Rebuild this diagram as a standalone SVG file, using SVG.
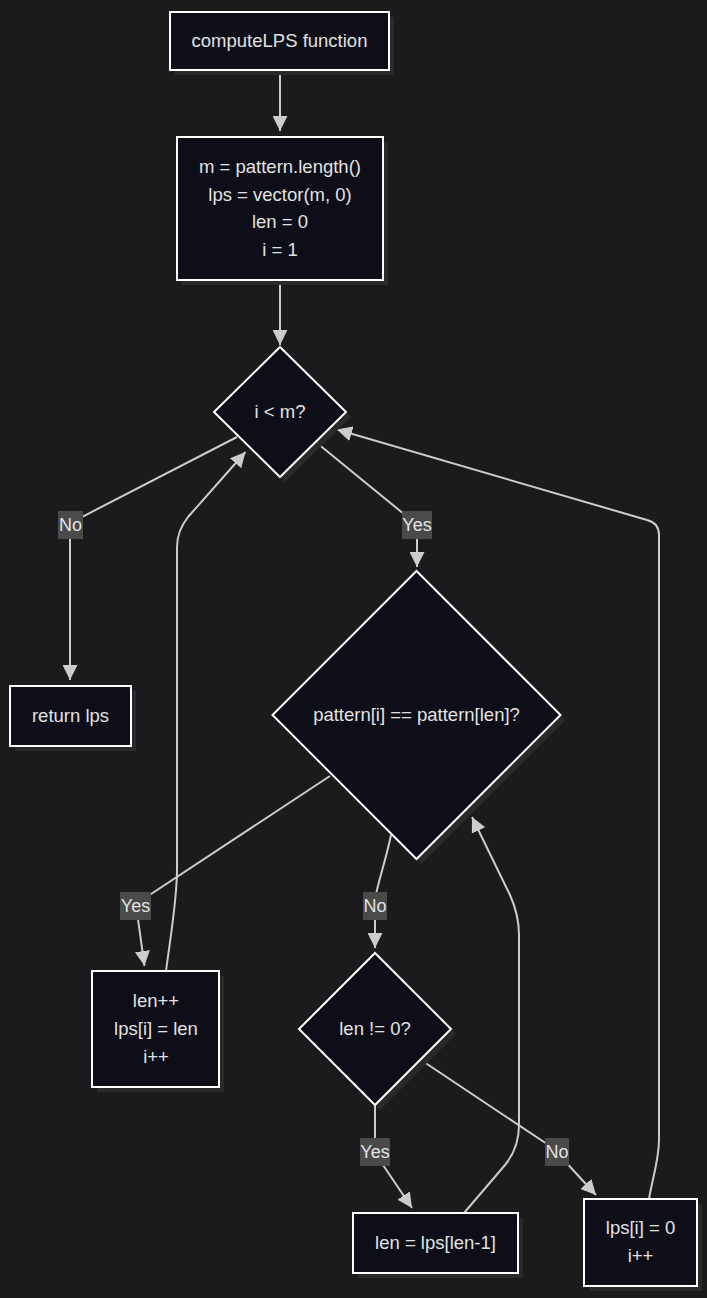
<svg xmlns="http://www.w3.org/2000/svg" width="707" height="1298" viewBox="0 0 707 1298">
<defs>
<marker id="arr" viewBox="0 0 15 15" markerWidth="15" markerHeight="15" markerUnits="userSpaceOnUse" refX="15" refY="7.5" orient="auto">
<path d="M0,0 L15,7.5 L0,15 z" fill="#cccccc"/>
</marker>
<style>
.bg{fill:#1b1b1d}
.node{fill:#0d0e17;stroke:#ffffff;stroke-width:2}
.shadow{fill:#2a2a2b}
.t{font-family:"Liberation Sans",Arial,sans-serif;font-size:18.5px;fill:#e2e2e2;text-anchor:middle}
.edge{fill:none;stroke:#cccccc;stroke-width:2;marker-end:url(#arr)}
.lbl{fill:#4a4a4a}
.lt{font-family:"Liberation Sans",Arial,sans-serif;font-size:18px;fill:#e2e2e2;text-anchor:middle}
</style>
</defs>
<rect class="bg" x="0" y="0" width="707" height="1298"/>

<g id="connectors">
<path class="edge" d="M280,71 L280,131"/>
<path class="edge" d="M280,281 L280,345"/>
<path class="edge" d="M237,437 L78,519 Q70,524 70,532 L70,680"/>
<path class="edge" d="M317,443 L410,519 Q417,525 417,532 L417,567"/>
<path class="edge" d="M330,776 L145,898 Q136,904 137,912 L144.5,966"/>
<path class="edge" d="M391,835 C386,860 377,885 375,900 L375,948"/>
<path class="edge" d="M375,1105 L375,1145 Q375,1155 381,1162 L412,1208"/>
<path class="edge" d="M421,1060 L550,1146 Q557,1151 562,1158 L596,1195"/>
<path class="edge" d="M166,971 C170,940 177,900 177,870 L177,547 Q177,531 188,517 L245.5,452"/>
<path class="edge" d="M464,1213 L505,1165 Q519,1148 519,1125 L519,935 Q519,915 510,895 L472,817"/>
<path class="edge" d="M649,1199 C652,1180 659,1160 659,1140 L659,535 Q659,523 647,520 L337,429.5"/>
</g>

<g id="edge-labels">
<rect class="lbl" x="58" y="511" width="25" height="28"/><text class="lt" x="70.5" y="531">No</text>
<rect class="lbl" x="402" y="511" width="30" height="28"/><text class="lt" x="417" y="531">Yes</text>
<rect class="lbl" x="120" y="892" width="31" height="28"/><text class="lt" x="135.5" y="912">Yes</text>
<rect class="lbl" x="363" y="892" width="24" height="28"/><text class="lt" x="375" y="912">No</text>
<rect class="lbl" x="360" y="1138" width="30" height="28"/><text class="lt" x="375" y="1158">Yes</text>
<rect class="lbl" x="545" y="1138" width="24" height="28"/><text class="lt" x="557" y="1158">No</text>
</g>

<g id="n-start">
<rect class="shadow" x="175" y="17" width="219" height="58"/>
<rect class="node" x="170" y="12" width="219" height="58"/>
<text class="t" x="279.5" y="47">computeLPS function</text>
</g>

<g id="n-init">
<rect class="shadow" x="182" y="142" width="206" height="143"/>
<rect class="node" x="177" y="137" width="206" height="143"/>
<text class="t" x="280" y="173">m = pattern.length()</text>
<text class="t" x="280" y="200.5">lps = vector(m, 0)</text>
<text class="t" x="280" y="228">len = 0</text>
<text class="t" x="280" y="255.5">i = 1</text>
</g>

<g id="n-cond-i">
<polygon class="shadow" points="285,352 351,417 285,482 219,417"/>
<polygon class="node" points="280,347 346,412 280,477 214,412"/>
<text class="t" x="280" y="417.5">i &lt; m?</text>
</g>

<g id="n-return">
<rect class="shadow" x="15" y="691" width="121" height="60"/>
<rect class="node" x="10" y="686" width="121" height="60"/>
<text class="t" x="70.5" y="721.5">return lps</text>
</g>

<g id="n-cond-match">
<polygon class="shadow" points="421.5,576 565.5,720 421.5,864 277.5,720"/>
<polygon class="node" points="416.5,571 560.5,715 416.5,859 272.5,715"/>
<text class="t" x="416.5" y="721">pattern[i] == pattern[len]?</text>
</g>

<g id="n-match">
<rect class="shadow" x="97" y="976" width="127" height="116"/>
<rect class="node" x="92" y="971" width="127" height="116"/>
<text class="t" x="156" y="1006.5">len++</text>
<text class="t" x="156" y="1034.5">lps[i] = len</text>
<text class="t" x="156" y="1062.5">i++</text>
</g>

<g id="n-cond-len">
<polygon class="shadow" points="380,958 456,1034 380,1110 304,1034"/>
<polygon class="node" points="375,953 451,1029 375,1105 299,1029"/>
<text class="t" x="375" y="1034.5">len != 0?</text>
</g>

<g id="n-fallback">
<rect class="shadow" x="358" y="1218" width="165" height="60"/>
<rect class="node" x="353" y="1213" width="165" height="60"/>
<text class="t" x="435.5" y="1248.5">len = lps[len-1]</text>
</g>

<g id="n-zero">
<rect class="shadow" x="589" y="1204" width="113" height="87"/>
<rect class="node" x="584" y="1199" width="113" height="87"/>
<text class="t" x="640.5" y="1233.5">lps[i] = 0</text>
<text class="t" x="640.5" y="1261.5">i++</text>
</g>
</svg>
